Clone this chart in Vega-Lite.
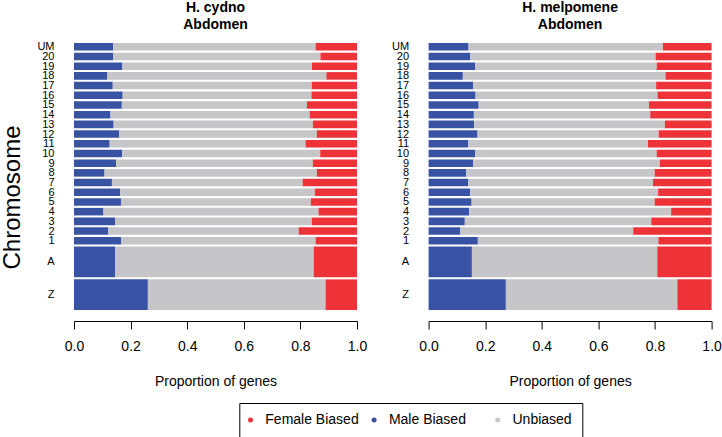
{
  "$schema": "https://vega.github.io/schema/vega-lite/v6.json",
  "padding": {"left": 0, "top": 1, "right": 5, "bottom": 0},
  "config": {
    "font": "Liberation Sans",
    "view": {"stroke": null},
    "axis": {"grid": false, "labelColor": "black", "titleColor": "black", "titleFontWeight": "normal"},
    "title": {"fontSize": 14, "fontWeight": "bold", "anchor": "middle", "offset": 9, "lineHeight": 16.5, "color": "black"},
    "legend": {"labelExpr": "indexof(datum.label, 'Unb') >= 0 ? datum.label + '\u00a0\u00a0\u00a0\u00a0\u00a0\u00a0\u00a0\u00a0' : datum.label"}
  },
  "datasets": {
    "rows": [
      {"chrom": "Z", "lo": 0, "hi": 3.16},
      {"chrom": "A", "lo": 3.37, "hi": 6.55},
      {"chrom": "1", "lo": 6.75, "hi": 7.53},
      {"chrom": "2", "lo": 7.75, "hi": 8.53},
      {"chrom": "3", "lo": 8.75, "hi": 9.53},
      {"chrom": "4", "lo": 9.75, "hi": 10.53},
      {"chrom": "5", "lo": 10.75, "hi": 11.53},
      {"chrom": "6", "lo": 11.75, "hi": 12.53},
      {"chrom": "7", "lo": 12.75, "hi": 13.53},
      {"chrom": "8", "lo": 13.75, "hi": 14.53},
      {"chrom": "9", "lo": 14.75, "hi": 15.53},
      {"chrom": "10", "lo": 15.75, "hi": 16.53},
      {"chrom": "11", "lo": 16.75, "hi": 17.53},
      {"chrom": "12", "lo": 17.75, "hi": 18.53},
      {"chrom": "13", "lo": 18.75, "hi": 19.53},
      {"chrom": "14", "lo": 19.75, "hi": 20.53},
      {"chrom": "15", "lo": 20.75, "hi": 21.53},
      {"chrom": "16", "lo": 21.75, "hi": 22.53},
      {"chrom": "17", "lo": 22.75, "hi": 23.53},
      {"chrom": "18", "lo": 23.75, "hi": 24.53},
      {"chrom": "19", "lo": 24.75, "hi": 25.53},
      {"chrom": "20", "lo": 25.75, "hi": 26.53},
      {"chrom": "UM", "lo": 26.75, "hi": 27.53}
    ],
    "genes": [
      {"species": "H. cydno", "chrom": "UM", "Male Biased": 0.139, "Unbiased": 0.715, "Female Biased": 0.146},
      {"species": "H. cydno", "chrom": "20", "Male Biased": 0.138, "Unbiased": 0.733, "Female Biased": 0.129},
      {"species": "H. cydno", "chrom": "19", "Male Biased": 0.171, "Unbiased": 0.670, "Female Biased": 0.159},
      {"species": "H. cydno", "chrom": "18", "Male Biased": 0.118, "Unbiased": 0.774, "Female Biased": 0.108},
      {"species": "H. cydno", "chrom": "17", "Male Biased": 0.137, "Unbiased": 0.703, "Female Biased": 0.160},
      {"species": "H. cydno", "chrom": "16", "Male Biased": 0.172, "Unbiased": 0.667, "Female Biased": 0.161},
      {"species": "H. cydno", "chrom": "15", "Male Biased": 0.169, "Unbiased": 0.654, "Female Biased": 0.177},
      {"species": "H. cydno", "chrom": "14", "Male Biased": 0.129, "Unbiased": 0.704, "Female Biased": 0.167},
      {"species": "H. cydno", "chrom": "13", "Male Biased": 0.140, "Unbiased": 0.704, "Female Biased": 0.156},
      {"species": "H. cydno", "chrom": "12", "Male Biased": 0.160, "Unbiased": 0.698, "Female Biased": 0.142},
      {"species": "H. cydno", "chrom": "11", "Male Biased": 0.126, "Unbiased": 0.692, "Female Biased": 0.182},
      {"species": "H. cydno", "chrom": "10", "Male Biased": 0.170, "Unbiased": 0.700, "Female Biased": 0.130},
      {"species": "H. cydno", "chrom": "9", "Male Biased": 0.149, "Unbiased": 0.695, "Female Biased": 0.156},
      {"species": "H. cydno", "chrom": "8", "Male Biased": 0.108, "Unbiased": 0.750, "Female Biased": 0.142},
      {"species": "H. cydno", "chrom": "7", "Male Biased": 0.134, "Unbiased": 0.674, "Female Biased": 0.192},
      {"species": "H. cydno", "chrom": "6", "Male Biased": 0.163, "Unbiased": 0.688, "Female Biased": 0.149},
      {"species": "H. cydno", "chrom": "5", "Male Biased": 0.166, "Unbiased": 0.671, "Female Biased": 0.163},
      {"species": "H. cydno", "chrom": "4", "Male Biased": 0.104, "Unbiased": 0.760, "Female Biased": 0.136},
      {"species": "H. cydno", "chrom": "3", "Male Biased": 0.146, "Unbiased": 0.694, "Female Biased": 0.160},
      {"species": "H. cydno", "chrom": "2", "Male Biased": 0.121, "Unbiased": 0.673, "Female Biased": 0.206},
      {"species": "H. cydno", "chrom": "1", "Male Biased": 0.166, "Unbiased": 0.688, "Female Biased": 0.146},
      {"species": "H. cydno", "chrom": "A", "Male Biased": 0.146, "Unbiased": 0.701, "Female Biased": 0.153},
      {"species": "H. cydno", "chrom": "Z", "Male Biased": 0.261, "Unbiased": 0.628, "Female Biased": 0.111},
      {"species": "H. melpomene", "chrom": "UM", "Male Biased": 0.141, "Unbiased": 0.687, "Female Biased": 0.172},
      {"species": "H. melpomene", "chrom": "20", "Male Biased": 0.147, "Unbiased": 0.655, "Female Biased": 0.198},
      {"species": "H. melpomene", "chrom": "19", "Male Biased": 0.165, "Unbiased": 0.641, "Female Biased": 0.194},
      {"species": "H. melpomene", "chrom": "18", "Male Biased": 0.121, "Unbiased": 0.716, "Female Biased": 0.163},
      {"species": "H. melpomene", "chrom": "17", "Male Biased": 0.158, "Unbiased": 0.646, "Female Biased": 0.196},
      {"species": "H. melpomene", "chrom": "16", "Male Biased": 0.166, "Unbiased": 0.643, "Female Biased": 0.191},
      {"species": "H. melpomene", "chrom": "15", "Male Biased": 0.177, "Unbiased": 0.602, "Female Biased": 0.221},
      {"species": "H. melpomene", "chrom": "14", "Male Biased": 0.160, "Unbiased": 0.623, "Female Biased": 0.217},
      {"species": "H. melpomene", "chrom": "13", "Male Biased": 0.161, "Unbiased": 0.674, "Female Biased": 0.165},
      {"species": "H. melpomene", "chrom": "12", "Male Biased": 0.173, "Unbiased": 0.640, "Female Biased": 0.187},
      {"species": "H. melpomene", "chrom": "11", "Male Biased": 0.140, "Unbiased": 0.635, "Female Biased": 0.225},
      {"species": "H. melpomene", "chrom": "10", "Male Biased": 0.165, "Unbiased": 0.641, "Female Biased": 0.194},
      {"species": "H. melpomene", "chrom": "9", "Male Biased": 0.157, "Unbiased": 0.660, "Female Biased": 0.183},
      {"species": "H. melpomene", "chrom": "8", "Male Biased": 0.133, "Unbiased": 0.666, "Female Biased": 0.201},
      {"species": "H. melpomene", "chrom": "7", "Male Biased": 0.140, "Unbiased": 0.653, "Female Biased": 0.207},
      {"species": "H. melpomene", "chrom": "6", "Male Biased": 0.147, "Unbiased": 0.664, "Female Biased": 0.189},
      {"species": "H. melpomene", "chrom": "5", "Male Biased": 0.152, "Unbiased": 0.647, "Female Biased": 0.201},
      {"species": "H. melpomene", "chrom": "4", "Male Biased": 0.143, "Unbiased": 0.714, "Female Biased": 0.143},
      {"species": "H. melpomene", "chrom": "3", "Male Biased": 0.128, "Unbiased": 0.659, "Female Biased": 0.213},
      {"species": "H. melpomene", "chrom": "2", "Male Biased": 0.112, "Unbiased": 0.611, "Female Biased": 0.277},
      {"species": "H. melpomene", "chrom": "1", "Male Biased": 0.174, "Unbiased": 0.638, "Female Biased": 0.188},
      {"species": "H. melpomene", "chrom": "A", "Male Biased": 0.153, "Unbiased": 0.655, "Female Biased": 0.192},
      {"species": "H. melpomene", "chrom": "Z", "Male Biased": 0.273, "Unbiased": 0.606, "Female Biased": 0.121}
    ]
  },
  "data": {"name": "genes"},
  "transform": [
    {"fold": ["Male Biased", "Unbiased", "Female Biased"], "as": ["bias", "prop"]},
    {"lookup": "chrom", "from": {"data": {"name": "rows"}, "key": "chrom", "fields": ["lo", "hi"]}},
    {"calculate": "indexof(['Male Biased','Unbiased','Female Biased'], datum.bias)", "as": "ord"},
    {"stack": "prop", "groupby": ["species", "chrom"], "sort": [{"field": "ord", "order": "ascending"}], "as": ["x0", "x1"]}
  ],
  "spacing": 23.6,
  "resolve": {"scale": {"color": "shared"}, "legend": {"color": "shared"}},
  "hconcat": [
    {
      "title": {"text": ["H. cydno", "Abdomen"]},
      "width": 283,
      "height": 267,
      "transform": [{"filter": "datum.species == 'H. cydno'"}],
      "mark": {"type": "bar"},
      "encoding": {
        "x": {"field": "x0", "type": "quantitative", "scale": {"domain": [0, 1], "nice": false},
          "axis": {"title": "Proportion of genes", "values": [0, 0.2, 0.4, 0.6, 0.8, 1], "format": ".1f", "offset": 11, "tickSize": 8, "tickColor": "black", "domainColor": "black", "labelFontSize": 14, "labelPadding": 10, "titleFontSize": 14, "titlePadding": 21, "labelFlush": false}},
        "x2": {"field": "x1"},
        "y": {"field": "lo", "type": "quantitative", "scale": {"domain": [0, 27.53], "nice": false, "zero": false},
          "axis": {"title": "Chromosome", "titleFontSize": 24, "titleBaseline": "alphabetic", "titleX": -54.9, "titleY": 154, "domain": false, "ticks": false, "labelPadding": 20, "labelFontSize": 11, "labelBaseline": "middle",
            "values": [1.58, 4.96, 7.14, 8.14, 9.14, 10.14, 11.14, 12.14, 13.14, 14.14, 15.14, 16.14, 17.14, 18.14, 19.14, 20.14, 21.14, 22.14, 23.14, 24.14, 25.14, 26.14, 27.14],
            "labelExpr": "datum.value < 3 ? 'Z' : datum.value < 6 ? 'A' : datum.value > 27 ? 'UM' : format(datum.value - 6.14, '.0f')", "labelOverlap": false, "labelFlush": false}},
        "y2": {"field": "hi"},
        "color": {"field": "bias", "type": "nominal",
          "scale": {"domain": ["Female Biased", "Male Biased", "Unbiased"], "range": ["#EE3338", "#3953A4", "#C6C6C8"]},
          "legend": {"title": null, "orient": "none", "legendX": 165.3, "legendY": 360, "direction": "horizontal", "columns": 3, "gridAlign": "all", "symbolType": "circle", "symbolSize": 25, "symbolOffset": -5.8, "labelFontSize": 14, "labelColor": "black", "labelOffset": 7.8, "columnPadding": 11.6, "padding": 10, "strokeColor": "black", "fillColor": "white", "labelLimit": 300}}
      }
    },
    {
      "title": {"text": ["H. melpomene", "Abdomen"]},
      "width": 283,
      "height": 267,
      "transform": [{"filter": "datum.species == 'H. melpomene'"}],
      "mark": {"type": "bar"},
      "encoding": {
        "x": {"field": "x0", "type": "quantitative", "scale": {"domain": [0, 1], "nice": false},
          "axis": {"title": "Proportion of genes", "values": [0, 0.2, 0.4, 0.6, 0.8, 1], "format": ".1f", "offset": 11, "tickSize": 8, "tickColor": "black", "domainColor": "black", "labelFontSize": 14, "labelPadding": 10, "titleFontSize": 14, "titlePadding": 21, "labelFlush": false}},
        "x2": {"field": "x1"},
        "y": {"field": "lo", "type": "quantitative", "scale": {"domain": [0, 27.53], "nice": false, "zero": false},
          "axis": {"title": null, "domain": false, "ticks": false, "labelPadding": 20, "labelFontSize": 11, "labelBaseline": "middle",
            "values": [1.58, 4.96, 7.14, 8.14, 9.14, 10.14, 11.14, 12.14, 13.14, 14.14, 15.14, 16.14, 17.14, 18.14, 19.14, 20.14, 21.14, 22.14, 23.14, 24.14, 25.14, 26.14, 27.14],
            "labelExpr": "datum.value < 3 ? 'Z' : datum.value < 6 ? 'A' : datum.value > 27 ? 'UM' : format(datum.value - 6.14, '.0f')", "labelOverlap": false, "labelFlush": false}},
        "y2": {"field": "hi"},
        "color": {"field": "bias", "type": "nominal",
          "scale": {"domain": ["Female Biased", "Male Biased", "Unbiased"], "range": ["#EE3338", "#3953A4", "#C6C6C8"]},
          "legend": {"title": null, "orient": "none", "legendX": 165.3, "legendY": 360, "direction": "horizontal", "columns": 3, "gridAlign": "all", "symbolType": "circle", "symbolSize": 25, "symbolOffset": -5.8, "labelFontSize": 14, "labelColor": "black", "labelOffset": 7.8, "columnPadding": 11.6, "padding": 10, "strokeColor": "black", "fillColor": "white", "labelLimit": 300}}
      }
    }
  ]
}
